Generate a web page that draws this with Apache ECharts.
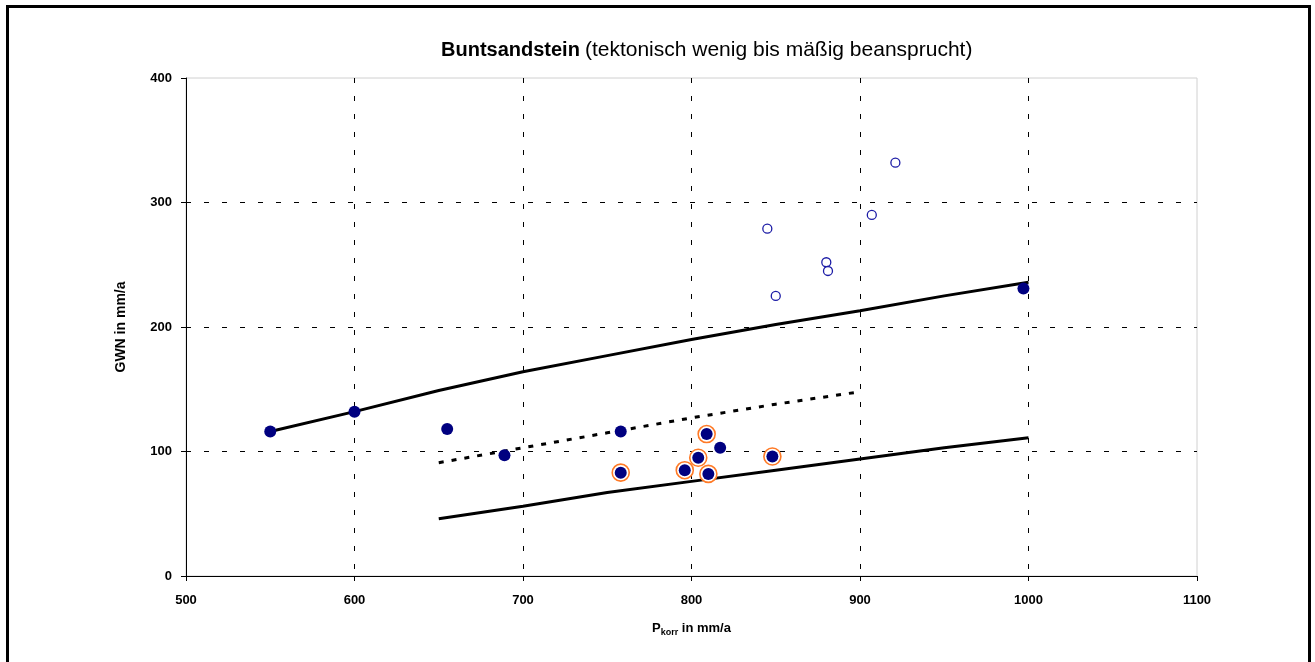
<!DOCTYPE html>
<html>
<head>
<meta charset="utf-8">
<script src="https://cdn.jsdelivr.net/npm/echarts@6/dist/echarts.min.js"></script>
<style>
html,body{margin:0;padding:0;background:#fff;}
#chart{width:1315px;height:662px;}
</style>
</head>
<body>
<div id="chart"></div>
<script>
// ---- data ----
const xTicks = [500, 600, 700, 800, 900, 1000, 1100];
const yTicks = [0, 100, 200, 300, 400];

// upper envelope (solid)
const upperX = [550, 600, 650, 700, 750, 800, 850, 900, 950, 1000];
const upperY = [116, 132, 149, 164, 177, 190, 202, 213, 225, 236];
// lower envelope (solid)
const lowerX = [650, 700, 750, 800, 850, 900, 950, 1000];
const lowerY = [46, 56, 67, 76, 85, 94, 103, 111];
// middle (dashed)
const midX = [650, 700, 750, 800, 850, 900];
const midY = [91, 103, 115, 127, 138, 148];

// filled points (no ring)
const filledX = [550, 600, 655, 689, 758, 817, 997];
const filledY = [116, 132, 118, 97, 116, 103, 231];
// filled points with orange ring
const ringX = [758, 796, 804, 810, 848, 809];
const ringY = [83, 85, 95, 82, 96, 114];
// open points
const openX = [845, 850, 880, 881, 907, 921];
const openY = [279, 225, 252, 245, 290, 332];

const zip = (xs, ys) => xs.map((x, i) => [x, ys[i]]);

const chart = echarts.init(document.getElementById('chart'), null, {renderer: 'canvas'});
const FONT = '"Liberation Sans", Arial, sans-serif';
const gridDash = {color: '#000', width: 1, type: [5, 13]};

chart.setOption({
  animation: false,
  backgroundColor: '#fff',
  textStyle: {fontFamily: FONT},
  title: {
    text: '{b|Buntsandstein} {n|(tektonisch wenig bis mäßig beansprucht)}',
    left: 436,
    top: 35,
    textStyle: {
      rich: {
        b: {fontFamily: FONT, fontSize: 20, fontWeight: 'bold', color: '#000'},
        n: {fontFamily: FONT, fontSize: 21, fontWeight: 'normal', color: '#000'}
      }
    }
  },
  graphic: [{
    type: 'rect',
    shape: {x: 7.5, y: 6.5, width: 1302, height: 700},
    style: {fill: 'none', stroke: '#000', lineWidth: 3},
    silent: true, z: 100
  }],
  grid: {
    left: 186, right: 118, top: 78, bottom: 86,
    show: true, borderColor: '#d0d0d0', borderWidth: 1, backgroundColor: '#fff'
  },
  xAxis: {
    type: 'value', min: 500, max: 1100, interval: 100,
    name: '{p|P}{s|korr}{p| in mm/a}',
    nameLocation: 'middle', nameGap: 44,
    nameTextStyle: {
      rich: {
        p: {fontFamily: FONT, fontSize: 13, fontWeight: 'bold', color: '#000'},
        s: {fontFamily: FONT, fontSize: 9, fontWeight: 'bold', color: '#000', verticalAlign: 'bottom', padding: [8, 0, 0, 0]}
      }
    },
    axisLine: {show: true, onZero: false, lineStyle: {color: '#000', width: 1}},
    axisTick: {show: true, length: 5, lineStyle: {color: '#000'}},
    axisLabel: {
      fontFamily: FONT, fontSize: 13, fontWeight: 'bold', color: '#000', margin: 18,
      formatter: v => xTicks.includes(v) ? String(v) : ''
    },
    splitLine: {show: true, showMinLine: false, showMaxLine: false, lineStyle: gridDash}
  },
  yAxis: {
    type: 'value', min: 0, max: 400, interval: 100,
    name: 'GWN in mm/a',
    nameLocation: 'middle', nameGap: 58,
    nameTextStyle: {fontFamily: FONT, fontSize: 14, fontWeight: 'bold', color: '#000'},
    axisLine: {show: true, onZero: false, lineStyle: {color: '#000', width: 1}},
    axisTick: {show: true, length: 5, lineStyle: {color: '#000'}},
    axisLabel: {
      fontFamily: FONT, fontSize: 13, fontWeight: 'bold', color: '#000', margin: 14,
      formatter: v => yTicks.includes(v) ? String(v) : ''
    },
    splitLine: {show: true, showMinLine: false, showMaxLine: false, lineStyle: gridDash}
  },
  series: [
    {type: 'line', data: zip(upperX, upperY), showSymbol: false, symbol: 'none',
     lineStyle: {color: '#000', width: 3}, z: 3},
    {type: 'line', data: zip(lowerX, lowerY), showSymbol: false, symbol: 'none',
     lineStyle: {color: '#000', width: 3}, z: 3},
    {type: 'line', data: zip(midX, midY), showSymbol: false, symbol: 'none',
     lineStyle: {color: '#000', width: 3, type: [5, 8]}, z: 3},
    {type: 'scatter', data: zip(ringX, ringY), symbol: 'circle', symbolSize: 17,
     itemStyle: {color: '#fff', borderColor: '#ff7a26', borderWidth: 1.6, opacity: 1}, z: 4},
    {type: 'scatter', data: zip(ringX, ringY), symbol: 'circle', symbolSize: 12,
     itemStyle: {color: '#000080', opacity: 1}, z: 5},
    {type: 'scatter', data: zip(filledX, filledY), symbol: 'circle', symbolSize: 12,
     itemStyle: {color: '#000080', opacity: 1}, z: 5},
    {type: 'scatter', data: zip(openX, openY), symbol: 'circle', symbolSize: 9,
     itemStyle: {color: '#fff', borderColor: '#1c1ca6', borderWidth: 1.3, opacity: 1}, z: 5}
  ]
});
</script>
</body>
</html>
